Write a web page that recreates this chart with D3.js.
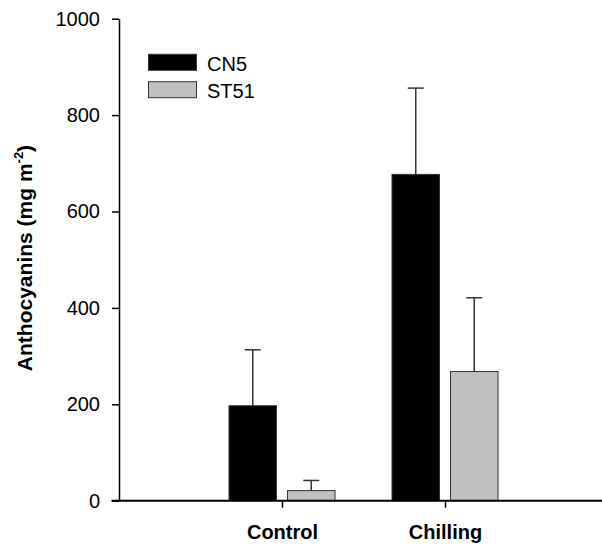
<!DOCTYPE html>
<html>
<head>
<meta charset="utf-8">
<script src="https://cdn.jsdelivr.net/npm/d3@7"></script>
<style>
  body { margin: 0; background: #fff; }
  svg { display: block; font-family: Arial, "Liberation Sans", sans-serif; }
</style>
</head>
<body>
<svg id="chart" width="602" height="546"></svg>
<script>
const categories = ["Control", "Chilling"];
const series = ["CN5", "ST51"];
const cn5Values = [197, 677];
const cn5Errors = [116, 179];
const st51Values = [21, 268];
const st51Errors = [21, 153];
const yTicks = [0, 200, 400, 600, 800, 1000];
const colors = { CN5: "#000000", ST51: "#c0c0c0" };

(function () {
const svg = d3.select("#chart");
const mLeft = 119, mRight = 608, mTop = 18.7, mBottom = 500.7;
const FONT = "Arial, 'Liberation Sans', sans-serif";

const y = d3.scaleLinear().domain([0, 1000]).range([mBottom, mTop]);
const x = d3.scaleLinear().domain([0, 3]).range([mLeft, mRight]);
const inner = d3.scaleBand().domain(series).range([-53, 53]).paddingInner(0.188).paddingOuter(0);

const data = [];
categories.forEach((c, i) => {
  data.push({ cat: c, pos: i + 1, s: "CN5", v: cn5Values[i], e: cn5Errors[i] });
  data.push({ cat: c, pos: i + 1, s: "ST51", v: st51Values[i], e: st51Errors[i] });
});

// error bars (drawn first, bars over them)
const eg = svg.append("g");
data.forEach(d => {
  const cx = x(d.pos) + inner(d.s) + inner.bandwidth() / 2;
  eg.append("line").attr("x1", cx).attr("x2", cx)
    .attr("y1", y(d.v)).attr("y2", y(d.v + d.e))
    .attr("stroke", "#333").attr("stroke-width", 1.5);
  eg.append("line").attr("x1", cx - 8).attr("x2", cx + 8)
    .attr("y1", y(d.v + d.e)).attr("y2", y(d.v + d.e))
    .attr("stroke", "#333").attr("stroke-width", 1.5);
});

// bars
svg.append("g").selectAll("rect").data(data).join("rect")
  .attr("x", d => x(d.pos) + inner(d.s))
  .attr("width", inner.bandwidth())
  .attr("y", d => y(d.v))
  .attr("height", d => y(0) - y(d.v))
  .attr("fill", d => colors[d.s])
  .attr("stroke", "#333")
  .attr("stroke-width", 1);

// y axis
const yAxis = svg.append("g").attr("transform", `translate(${mLeft},0)`)
  .call(d3.axisLeft(y).tickValues(yTicks).tickFormat(d3.format("d")).tickSize(7).tickPadding(12).tickSizeOuter(0));
yAxis.attr("font-size", null).attr("font-family", null);
yAxis.select(".domain").attr("stroke", "#000").attr("stroke-width", 1.5);
yAxis.selectAll(".tick line").attr("stroke", "#000").attr("stroke-width", 1.5);
yAxis.selectAll(".tick text").style("font-size", "20px").style("font-family", FONT).attr("fill", "#000");

// x axis
const xAxis = svg.append("g").attr("transform", `translate(0,${mBottom})`)
  .call(d3.axisBottom(x).tickValues([1, 2]).tickFormat(d => categories[d - 1]).tickSize(7).tickPadding(17).tickSizeOuter(0));
xAxis.attr("font-size", null).attr("font-family", null);
xAxis.select(".domain").remove();
xAxis.append("line").attr("x1", mLeft - 7.5).attr("x2", 602).attr("y1", 0).attr("y2", 0)
  .attr("stroke", "#000").attr("stroke-width", 2);
xAxis.selectAll(".tick line").attr("stroke", "#000").attr("stroke-width", 1.5);
xAxis.selectAll(".tick text").style("font-size", "20px").style("font-weight", "bold")
  .style("font-family", FONT).attr("fill", "#000");

// y axis title
const title = svg.append("text")
  .attr("transform", "translate(32,258) rotate(-90)")
  .attr("text-anchor", "middle")
  .style("font-size", "21px").style("font-weight", "bold").style("font-family", FONT).attr("fill", "#000");
title.append("tspan").text("Anthocyanins (mg m");
title.append("tspan").style("font-size", "13px").attr("dy", -9).text("-2");
title.append("tspan").attr("dy", 9).text(")");

// legend
const legend = svg.append("g");
series.forEach((s, i) => {
  const ly = 54.3 + i * 27.4;
  legend.append("rect").attr("x", 148.5).attr("y", ly).attr("width", 48).attr("height", 16)
    .attr("fill", colors[s]).attr("stroke", "#333").attr("stroke-width", 1);
  legend.append("text").attr("x", 207).attr("y", ly + 16.3)
    .style("font-size", "20px").style("font-family", FONT).attr("fill", "#000").text(s);
});
})();
</script>
</body>
</html>
